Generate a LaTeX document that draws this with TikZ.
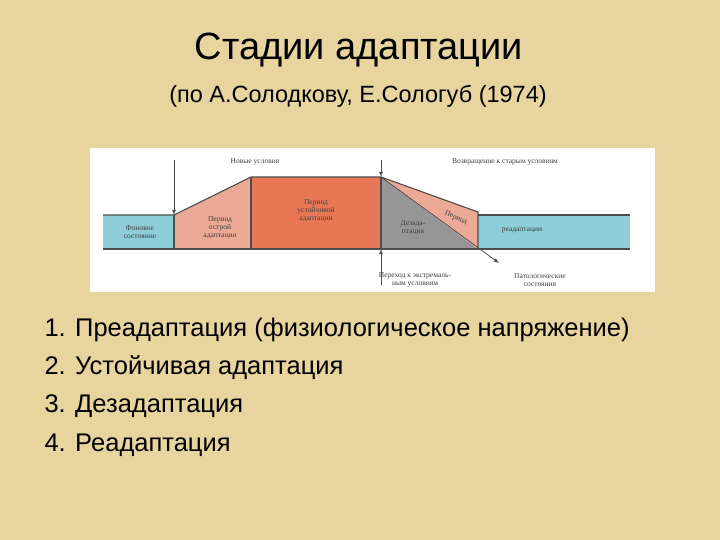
\documentclass[tikz,border=0pt]{standalone}
\usepackage{fontspec}
\setmainfont{Liberation Sans}
\newfontfamily\serf{Liberation Serif}
\begin{document}
\begin{tikzpicture}[x=1pt,y=-1pt,
 lbl/.style={font=\serf\fontsize{7.5}{8}\selectfont,align=center,text=black!75,inner sep=0pt},
 ln/.style={draw=black!70,line width=1.1pt},
 arr/.style={draw=black!70,line width=0.8pt,-latex}]
\fill[fill={rgb,255:red,232;green,212;blue,158}] (0,0) rectangle (720,540);
\useasboundingbox (0,0) rectangle (720,540);
\node (t) at (359,50) {\fontsize{38}{42}\selectfont Стадии адаптации};
\node (s) at (358,96) {\fontsize{23.5}{26}\selectfont (по А.Солодкову, Е.Сологуб (1974)};
\fill[white] (90,148) rectangle (655,292);
% bands
\fill[fill={rgb,255:red,140;green,205;blue,215}] (103,215) rectangle (174,249);
\fill[fill={rgb,255:red,140;green,205;blue,215}] (478,215) rectangle (630,249);
\fill[fill={rgb,255:red,236;green,170;blue,150}] (174,215) -- (251,177) -- (251,249) -- (174,249) -- cycle;
\fill[fill={rgb,255:red,232;green,120;blue,85}] (251,177) rectangle (381,249);
\fill[fill={rgb,255:red,150;green,150;blue,150}] (381,177) -- (478,249) -- (381,249) -- cycle;
\fill[fill={rgb,255:red,236;green,170;blue,150}] (381,177) -- (478,212) -- (478,249) -- cycle;
\draw[ln] (103,215) -- (174,215) -- (251,177) -- (381,177) -- (478,212) -- (478,249);
\draw[ln] (478,215) -- (630,215);
\draw[ln] (103,249) -- (630,249);
\draw[ln] (251,177) -- (251,249);
\draw[ln] (381,177) -- (381,249);
\draw[ln] (174,215) -- (174,249);
\coordinate (pe) at (499,263);
\draw[arr] (381,177) -- (pe);
\draw[arr] (174,160) -- (174,215);
\draw[arr] (381,160) -- (381,177);
\draw[arr] (381,285) -- (381,249);
\node[lbl] at (255,162) {Новые условия};
\node[lbl] at (505,162) {Возвращение к старым условиям};
\node[lbl] at (140,232) {Фоновое\\состояние};
\node[lbl] at (220,228) {Период\\острой\\адаптации};
\node[lbl] at (316,211) {Период\\устойчивой\\адаптации};
\node[lbl] at (413,228) {Дезада-\\птация};
\node[lbl,rotate=-25] at (456,218) {Период};
\node[lbl] at (522,231) {реадаптации};
\node[lbl] at (415,280) {Переход к экстремаль-\\ным условиям};
\node[lbl] at (540,280) {Патологические\\состояния};
\node[anchor=west,align=left,font=\fontsize{25.5}{38.3}\selectfont] (l) at (41,387) {1. Преадаптация (физиологическое напряжение)\\2. Устойчивая адаптация\\3. Дезадаптация\\4. Реадаптация};
\end{tikzpicture}
\end{document}
